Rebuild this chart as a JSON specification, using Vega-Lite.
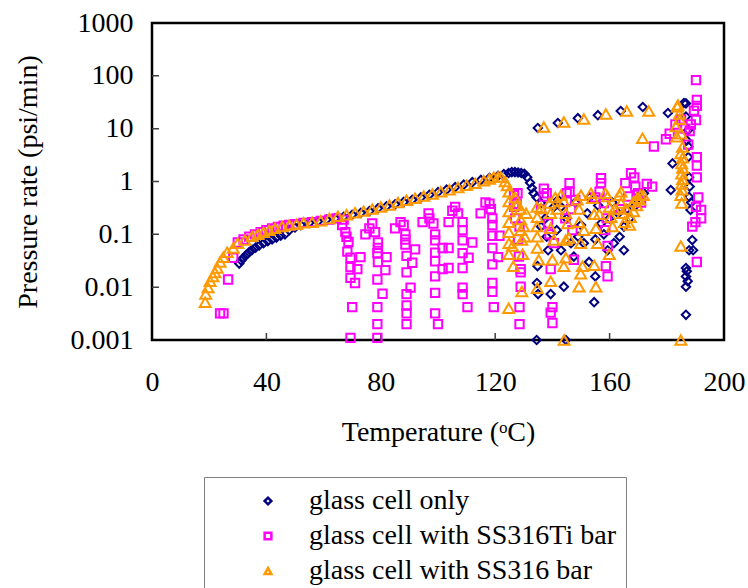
{
"$schema":"https://vega.github.io/schema/vega-lite/v6.json",
"width":572,"height":317,
"padding":{"left":152,"top":23,"right":24,"bottom":248},
"autosize":{"type":"none"},
"background":"white",
"config":{
"view":{"stroke":null},
"font":"Liberation Serif",
"legend":{"labelFont":"Liberation Serif"},
"axis":{"grid":false,"domain":false,"ticks":false,"labelFont":"Liberation Serif","titleFont":"Liberation Serif","labelFontSize":28,"titleFontSize":28,"labelColor":"#000","titleColor":"#000","titleFontWeight":"normal","tickSize":0,"labelFlush":false}
},
"resolve":{"axis":{"x":"independent","y":"independent"}},
"datasets":{
"navy":[[30.5,0.028],[31.2,0.032],[32,0.036],[33,0.041],[34,0.046],[35,0.051],[36.2,0.056],[37.5,0.062],[39,0.068],[40.5,0.074],[42,0.08],[43.5,0.087],[45,0.094],[46.5,0.1],[48,0.12],[50,0.135],[52,0.15],[55,0.165],[58,0.175],[61,0.19],[64,0.2],[67,0.215],[70,0.235],[73,0.255],[76,0.275],[79,0.31],[82,0.34],[85,0.37],[88,0.41],[91,0.45],[94,0.5],[97,0.56],[100,0.63],[103,0.7],[106,0.78],[109,0.87],[112,0.97],[115,1.07],[118,1.17],[121,1.28],[123,1.38],[124.7,1.45],[125.8,1.5],[126.9,1.5],[128,1.48],[129.1,1.45],[130.2,1.4],[131.2,1.2],[132.2,0.95],[132.8,0.75],[133.4,0.6],[134.5,0.5],
[134.9,10.3],[141.9,12.8],[148.9,15.8],[155.9,18],[163.9,21.6],[171.6,25.7],[180.4,19.8],[186,30.6],
[136,0.39],[136,0.14],[134.8,0.025],[134.6,0.012],[135,0.0074],[139.4,0.0074],[144,0.0102],[134.5,0.001],[144.7,0.001],[154.6,0.0052],[155,0.016],[143,0.33],[141.5,0.12],[146.5,0.068],[152.2,0.25],[151,0.068],[157,0.16],[159.3,0.05],[161.5,0.068],[165,0.14],[166,0.3],[170,0.52],[163.5,0.09],[140.5,0.33],[147.5,0.038],[152.8,0.03],[138.5,0.05],[137.5,0.2],[142,0.45],[145,0.2],[148,0.4],[150,0.15],[153,0.5],[156,0.35],[158,0.1],[161,0.4],[163,0.25],[167,0.2],[169,0.35],[171,0.45],[172,0.6],[138,0.09],[143,0.05],[149,0.09],[155,0.08],[160,0.2],[165,0.05],
[181.4,0.69],[182,2.2],[186.7,30],[186.7,17],[187.5,9.4],[187.5,4.6],[187.5,2.9],[187.8,1.2],[187.8,0.51],[188.3,0.29],[188.9,0.078],[187.8,0.05],[189.2,0.05],[186.7,0.023],[186.7,0.016],[186.7,0.0102],[186.7,0.003],[187,6],[188,0.8],[188.5,0.4],[187,0.02],[187.3,0.013]],
"mag":[[23.8,0.0032],[25,0.0032],[26.6,0.014],[28.4,0.036],[30,0.07],[32,0.08],[34,0.09],[36,0.1],[38,0.11],[40,0.12],[42,0.13],[44,0.138],[46,0.145],[48,0.15],[50,0.155],[53,0.165],[56,0.17],[59,0.18],[62,0.19],[64.5,0.2],
[66.5,0.15],[67.6,0.11],[68.7,0.072],[68.3,0.047],[69.4,0.036],[69.4,0.024],[71.8,0.022],[72.9,0.037],[69.4,0.015],[71,0.012],[70,0.0042],[69.4,0.0011],[67,0.19],[68,0.09],
[74.6,0.1],[76,0.13],[78,0.11],[79,0.07],[78.8,0.044],[82,0.037],[79,0.03],[81.6,0.021],[78.8,0.014],[80.6,0.0075],[78.8,0.0042],[78.8,0.002],[78.8,0.0011],[77,0.16],[79,0.055],
[85,0.13],[86.9,0.17],[88,0.15],[88.6,0.1],[88.6,0.064],[92,0.052],[89,0.039],[91,0.029],[89,0.019],[90.4,0.0098],[89,0.0074],[89,0.0045],[89,0.0032],[89,0.002],[88.6,0.08],
[94.6,0.17],[96.7,0.25],[98.4,0.16],[99,0.1],[99,0.077],[101.6,0.055],[99,0.031],[101.6,0.022],[99,0.016],[99,0.0078],[99,0.0032],[100,0.002],[97,0.2],[99,0.045],
[103.7,0.17],[106,0.33],[107,0.25],[108.6,0.17],[108.6,0.12],[108.6,0.077],[112,0.07],[108.6,0.044],[110.7,0.036],[108.6,0.023],[108.6,0.0098],[108.6,0.0074],[110.3,0.0042],[103.7,0.055],[103.7,0.023],[105,0.28],
[114.9,0.25],[116.6,0.4],[118,0.38],[119,0.15],[119,0.094],[121.5,0.094],[119,0.055],[121,0.037],[119,0.027],[119,0.012],[119,0.0082],[119.5,0.0042],[118.5,0.3],[119,0.2],
[127.8,0.6],[127.5,0.38],[126.6,0.55],[126.6,0.33],[128.5,0.14],[128.3,0.038],[128.9,0.022],[128.9,0.019],[128.9,0.0102],[128.5,0.0042],[128.5,0.002],[127,0.2],[128,0.08],
[137,0.73],[137,0.52],[138,0.6],[138.5,0.16],[139.4,0.022],[139.4,0.0033],[140,0.0021],[140,0.0042],[140.5,0.068],[136,0.3],[139,0.1],
[145,0.6],[146,0.93],[146,0.64],[146.5,0.3],[147,0.12],[147.5,0.033],[144.5,0.2],[148,0.45],
[157,1.15],[157,0.93],[156.5,0.64],[158,0.39],[158.7,0.025],[159.3,0.016],[159.3,0.06],[155,0.5],[159,0.2],[158.5,0.12],
[167.5,1.43],[168.6,1.2],[165.5,0.93],[166.5,0.52],[169,0.8],[170,0.6],[171,0.4],[164,0.3],
[174.9,0.8],[175.5,4.6],[173,0.9],
[179.7,6.3],[190.2,83],[190.5,35],[190.5,27],[190.2,14.6],[188.4,12],[190.5,2.9],[190.5,2.0],[190.5,1.2],[190.2,0.33],[192,0.29],[192,0.2],[188.9,0.14],[190.5,0.03],[189.5,22],[188,9],[187.5,5],[191,0.5],[190,0.17],[181,8],[183,12],[185,15],[186.5,10]],
"orng":[[18.6,0.0052],[18.8,0.0074],[19.6,0.0098],[20.3,0.013],[21.3,0.016],[22,0.019],[22.8,0.023],[23.8,0.03],[24.9,0.037],[26.3,0.046],[28.4,0.055],[30,0.068],[32.5,0.078],[35,0.092],[37,0.1],[39,0.11],[41,0.12],[43,0.13],[45.5,0.14],[48,0.15],[50.5,0.155],[53,0.165],[56,0.17],[59,0.18],[62,0.2],[65,0.22],[68,0.235],[71,0.255],[74,0.275],[77,0.3],[80,0.33],[83,0.36],[86,0.4],[89,0.44],[92,0.48],[95,0.53],[98,0.58],[101,0.64],[104,0.7],[107,0.77],[110,0.85],[113,0.93],[116,1.03],[118,1.12],[119.5,1.2],[121,1.22],[122,1.2],[123.5,1.0],[124.2,0.84],[124.8,0.64],
[124.8,0.42],[124.8,0.27],[124.8,0.17],[124.8,0.11],[124.8,0.068],[124.8,0.042],[124.7,0.004],[126,0.06],[126.3,0.025],
[128.9,0.3],[128.9,0.19],[128.9,0.12],[129.3,0.078],[129.6,0.042],[129.3,0.0083],[130,0.14],[130.3,0.09],[130.8,0.25],[127,0.5],[127.5,0.35],
[134.6,0.33],[134.7,0.21],[134.6,0.14],[134.7,0.09],[134.7,0.055],[135.2,0.033],[134.7,0.0095],[136,0.31],
[139,0.39],[139.4,0.25],[139.4,0.13],[140.5,0.078],[140,0.033],[139.4,0.013],[141.6,0.3],[141,0.5],
[144,0.42],[144.7,0.25],[145.3,0.16],[144.7,0.078],[144.7,0.036],[144,0.025],[144.1,0.001],[145.8,0.085],[143,0.55],
[148.7,0.45],[149.3,0.3],[149.3,0.17],[149.9,0.068],[150.5,0.025],[149.9,0.018],[149.3,0.0102],[151,0.12],[150,0.55],
[154,0.48],[154.6,0.24],[155.2,0.13],[155.8,0.068],[154.6,0.026],[155.2,0.0102],[156.4,0.24],[153.5,0.6],
[159.3,0.52],[159.9,0.33],[160.5,0.21],[161,0.14],[159.9,0.042],[161.7,0.3],[158.5,0.6],
[164,0.64],[164,0.39],[164.6,0.25],[165.2,0.17],[165.8,0.3],[163.5,0.55],
[168.4,0.42],[169.6,0.48],[170.8,0.55],[171.8,0.55],[167.3,0.21],[168.4,0.27],[167,0.15],[169.5,0.35],[170.5,0.45],
[171.5,6.6],
[137,10.7],[144,13.4],[151,15.2],[158.7,18.9],[166,21.6],[173.7,21.6],[183.9,28],
[183.7,26],[184.4,19],[183.2,11],[183.5,7],[184.9,3.4],[185.2,2.2],[185.2,1.4],[185.2,0.9],[184.9,0.55],[185.2,0.39],[184.9,0.06],[184.9,0.001],[185.5,4.5],[185.5,2.8],[185.5,1.8],[185.5,1.1],[185.3,0.7],[184.5,15],[185,8]]
},
"layer":[
{"data":{"values":[{}]},
"mark":{"type":"point","shape":"M-1,-0.5542H1V0.5542H-1Z","size":327184,"filled":false,"stroke":"black","strokeWidth":2.5,"opacity":1},
"encoding":{
"x":{"datum":100,"type":"quantitative","scale":{"domain":[0,200],"nice":false},"axis":{"values":[0,40,80,120,160,200],"title":"Temperature (ᵒC)","labelPadding":28,"titlePadding":22}},
"y":{"datum":1,"type":"quantitative","scale":{"type":"log","domain":[0.001,1000]},"axis":{"values":[0.001,0.01,0.1,1,10,100,1000],"format":"~g","title":"Pressure rate (psi/min)","labelPadding":19,"titlePadding":28}}}},
{"data":{"values":[{}]},
"mark":{"type":"point","shape":"M-0.6,0.5542V0.5297M-0.2,0.5542V0.5297M0.2,0.5542V0.5297M0.6,0.5542V0.5297M-1,-0.3694H-0.9755M-1,-0.1847H-0.9755M-1,0H-0.9755M-1,0.1847H-0.9755M-1,0.3694H-0.9755","size":327184,"filled":false,"stroke":"#404040","strokeWidth":1.5,"opacity":1},
"encoding":{"x":{"datum":100,"type":"quantitative","axis":null},"y":{"datum":1,"type":"quantitative","axis":null}}},
{"data":{"name":"navy"},"transform":[{"calculate":"'glass cell only'","as":"series"},{"calculate":"datum[0]","as":"temp"},{"calculate":"datum[1]","as":"rate"}],
"mark":{"type":"point","filled":false,"strokeWidth":2,"size":70,"opacity":1},
"encoding":{
"x":{"field":"temp","type":"quantitative","axis":null},
"y":{"field":"rate","type":"quantitative","axis":null},
"color":{"field":"series","type":"nominal","scale":{"domain":["glass cell only","glass cell with SS316Ti bar","glass cell with SS316 bar"],"range":["#000080","#FF00FF","#FF9900"]},
"legend":{"title":null,"orient":"none","legendX":52,"legendY":454,"strokeColor":"#808080","fillColor":"white","padding":10,"symbolOffset":40,"labelOffset":27,"labelFontSize":28,"labelFont":"Liberation Serif","labelColor":"#000","rowPadding":7,"symbolStrokeWidth":2.5,"symbolSize":45,"symbolFillColor":"transparent","labelLimit":0}},
"shape":{"field":"series","type":"nominal","scale":{"domain":["glass cell only","glass cell with SS316Ti bar","glass cell with SS316 bar"],"range":["diamond","square","triangle-up"]},"legend":null}
}},
{"data":{"name":"mag"},"transform":[{"calculate":"'glass cell with SS316Ti bar'","as":"series"},{"calculate":"datum[0]","as":"temp"},{"calculate":"datum[1]","as":"rate"}],
"mark":{"type":"point","filled":false,"strokeWidth":2,"size":70,"opacity":1},
"encoding":{"x":{"field":"temp","type":"quantitative","axis":null},"y":{"field":"rate","type":"quantitative","axis":null},"color":{"field":"series","type":"nominal"},"shape":{"field":"series","type":"nominal"}}},
{"data":{"name":"orng"},"transform":[{"calculate":"'glass cell with SS316 bar'","as":"series"},{"calculate":"datum[0]","as":"temp"},{"calculate":"datum[1]","as":"rate"}],
"mark":{"type":"point","filled":false,"strokeWidth":2,"size":120,"opacity":1},
"encoding":{"x":{"field":"temp","type":"quantitative","axis":null},"y":{"field":"rate","type":"quantitative","axis":null},"color":{"field":"series","type":"nominal"},"shape":{"field":"series","type":"nominal"}}}
]
}
